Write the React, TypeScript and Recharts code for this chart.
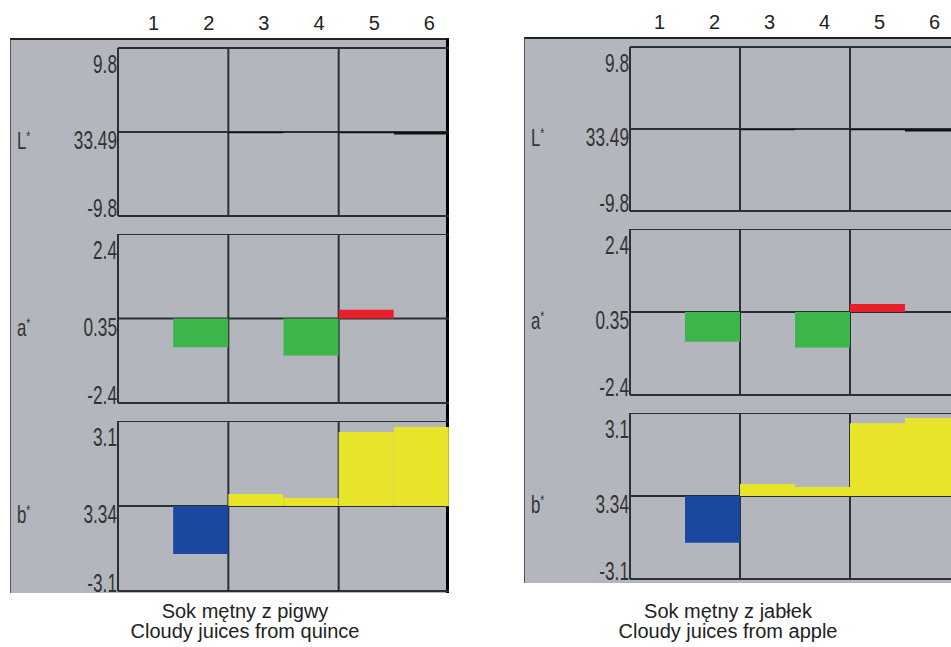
import React from 'react'
import { Bar, BarChart, CartesianGrid, Cell, XAxis, YAxis } from 'recharts'

// sample columns (top labels)
const columns = ['1', '2', '3', '4', '5', '6']

// row names and tick labels (top / reference / bottom)
const rowNames = ['L', 'a', 'b']
const lTickLabels = ['9.8', '33.49', '-9.8']
const aTickLabels = ['2.4', '0.35', '-2.4']
const bTickLabels = ['3.1', '3.34', '-3.1']
const limits = [9.8, 2.4, 3.1]

// differences from reference, quince juice
const quinceL = [0, 0, -0.15, 0, -0.15, -0.3]
const quinceA = [0, -0.82, 0, -1.05, 0.25, 0]
const quinceB = [0, -1.75, 0.44, 0.29, 2.7, 2.88]

// differences from reference, apple juice
const appleL = [0, 0, -0.15, 0, -0.15, -0.3]
const appleA = [0, -0.86, 0, -1.03, 0.23, 0]
const appleB = [0, -1.75, 0.45, 0.34, 2.72, 2.91]

const captionsQuince = ['Sok mętny z pigwy', 'Cloudy juices from quince']
const captionsApple = ['Sok mętny z jabłek', 'Cloudy juices from apple']

const GRID = '#2b3035'
const PANEL_BG = '#b3b7bd'
const FONT = 'Liberation Sans, Arial, sans-serif'
const rowColors = [
  { pos: '#111111', neg: '#111111' },
  { pos: '#e8202a', neg: '#3cb54a' },
  { pos: '#e8e42a', neg: '#1a48a0' },
]

type RowBox = { top: number; height: number }

const PAD = 8 // room under each plot so the bottom tick label is not clipped

function SubChart(props: {
  index: number
  values: number[]
  tickLabels: string[]
  left: number
  width: number
  axisWidth: number
  box: RowBox
  topDx?: number
}) {
  const { index, values, tickLabels, left, width, axisWidth, box, topDx } = props
  const limit = limits[index]
  const colors = rowColors[index]
  const data = columns.map((name, i) => ({ name, value: values[i] }))
  const showTop = topDx !== undefined
  const chartTop = showTop ? 0 : box.top
  const chartHeight = (showTop ? box.top + box.height : box.height) + PAD

  const renderYTick = (p: any) => {
    const v = p.payload.value
    const label = v > 0 ? tickLabels[0] : v < 0 ? tickLabels[2] : tickLabels[1]
    const dy = v > 0 ? 25 : v < 0 ? 1 : 17
    return (
      <g>
        <text
          transform={`translate(${p.x - 1},${p.y + dy}) scale(0.69,1)`}
          textAnchor="end"
          fontSize={25}
          fill="#333"
          fontFamily={FONT}
        >
          {label}
        </text>
        {v === 0 && (
          <text
            transform={`translate(${p.x - axisWidth + 7},${p.y + dy}) scale(0.7,1)`}
            fontSize={24}
            fill="#333"
            fontFamily={FONT}
          >
            {rowNames[index]}
            <tspan fontSize={15} dy={-8}>*</tspan>
          </text>
        )}
      </g>
    )
  }

  const renderXTick = (p: any) => (
    <text
      x={p.x + (topDx || 0)}
      y={p.y - 18}
      textAnchor="middle"
      fontSize={20}
      fill="#222"
      fontFamily={FONT}
    >
      {p.payload.value}
    </text>
  )

  return (
    <div style={{ position: 'absolute', left, top: chartTop }}>
      <BarChart
        width={width}
        height={chartHeight}
        data={data}
        margin={{ top: 0, right: 0, bottom: PAD, left: 0 }}
        barCategoryGap={0}
        barGap={0}
      >
        <CartesianGrid
          stroke={GRID}
          strokeWidth={2}
          verticalCoordinatesGenerator={({ offset }: any) =>
            [1, 2].map((k) => offset.left + (offset.width * k) / 3)
          }
        />
        <XAxis
          dataKey="name"
          orientation="top"
          hide={!showTop}
          height={showTop ? box.top : 0}
          axisLine={false}
          tickLine={false}
          tickSize={0}
          tickMargin={0}
          interval={0}
          tick={renderXTick}
        />
        <YAxis
          width={axisWidth}
          domain={[-limit, limit]}
          ticks={[limit, 0, -limit]}
          interval={0}
          axisLine={{ stroke: GRID, strokeWidth: 2 }}
          tickLine={false}
          tickSize={0}
          tickMargin={0}
          tick={renderYTick}
        />
        <Bar dataKey="value" isAnimationActive={false}>
          {data.map((d, i) => (
            <Cell key={i} fill={d.value >= 0 ? colors.pos : colors.neg} />
          ))}
        </Bar>
      </BarChart>
    </div>
  )
}

function Panel(props: {
  series: number[][]
  captions: string[]
  boxLeft: number
  boxTop: number
  boxWidth: number
  boxHeight: number
  rightBorder: boolean
  axisWidth: number
  chartWidth: number
  rows: RowBox[]
  topDx: number
  captionCenter: number
  captionTop: number
}) {
  const p = props
  const ticks = [lTickLabels, aTickLabels, bTickLabels]
  return (
    <>
      <div
        style={{
          position: 'absolute',
          left: p.boxLeft,
          top: p.boxTop,
          width: p.boxWidth,
          height: p.boxHeight,
          background: PANEL_BG,
          borderTop: '2px solid #222',
          borderLeft: '1px solid #555',
          borderRight: p.rightBorder ? '3px solid #000' : 'none',
          boxSizing: 'border-box',
        }}
      />
      {p.series.map((values, i) => (
        <SubChart
          key={i}
          index={i}
          values={values}
          tickLabels={ticks[i]}
          left={p.boxLeft}
          width={p.chartWidth}
          axisWidth={p.axisWidth}
          box={p.rows[i]}
          topDx={i === 0 ? p.topDx : undefined}
        />
      ))}
      <div
        style={{
          position: 'absolute',
          left: p.captionCenter - 170,
          width: 340,
          top: p.captionTop,
          textAlign: 'center',
          fontSize: 20,
          lineHeight: '20px',
          color: '#222',
          fontFamily: FONT,
        }}
      >
        {p.captions.map((c) => (
          <div key={c}>{c}</div>
        ))}
      </div>
    </>
  )
}

export default function App() {
  return (
    <div
      style={{
        position: 'absolute',
        left: 0,
        top: 0,
        width: 951,
        height: 647,
        overflow: 'hidden',
        background: '#fff',
        fontFamily: FONT,
      }}
    >
      <Panel
        series={[quinceL, quinceA, quinceB]}
        captions={captionsQuince}
        boxLeft={10}
        boxTop={38}
        boxWidth={439}
        boxHeight={555}
        rightBorder
        axisWidth={108}
        chartWidth={439}
        rows={[
          { top: 48, height: 168 },
          { top: 234, height: 169 },
          { top: 421, height: 170 },
        ]}
        topDx={8}
        captionCenter={245}
        captionTop={601}
      />
      <Panel
        series={[appleL, appleA, appleB]}
        captions={captionsApple}
        boxLeft={524}
        boxTop={37}
        boxWidth={440}
        boxHeight={546}
        rightBorder={false}
        axisWidth={106}
        chartWidth={436}
        rows={[
          { top: 47, height: 164 },
          { top: 229, height: 166 },
          { top: 413, height: 166 },
        ]}
        topDx={2}
        captionCenter={728}
        captionTop={601}
      />
    </div>
  )
}
